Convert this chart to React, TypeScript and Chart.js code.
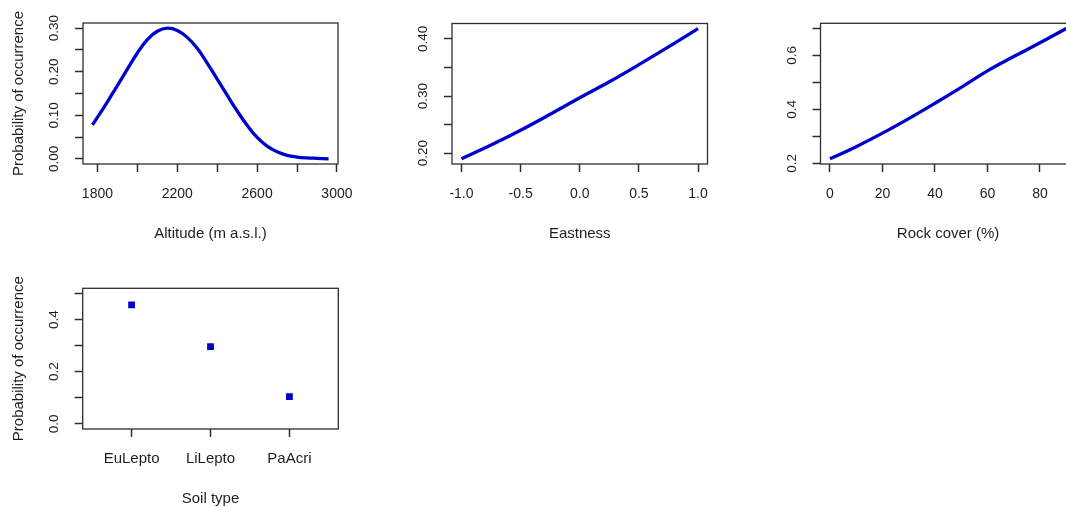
import React, { useEffect, useRef } from "react";
import { Chart, registerables } from "chart.js";

Chart.register(...registerables);

// ---------- data ----------
const altitudeValues = [1775, 1800, 1850, 1900, 1950, 2000, 2050, 2100, 2150, 2200, 2250, 2300, 2350, 2400, 2450, 2500, 2550, 2600, 2650, 2700, 2750, 2800, 2850, 2900, 2958];
const altitudeProbability = [0.078, 0.095, 0.131, 0.168, 0.206, 0.243, 0.274, 0.293, 0.300, 0.295, 0.279, 0.254, 0.220, 0.183, 0.146, 0.110, 0.077, 0.049, 0.029, 0.016, 0.008, 0.004, 0.002, 0.001, 0.000];
const altitudeTicks = [1800, 2000, 2200, 2400, 2600, 2800, 3000];
const altitudeTickLabels = ["1800", "", "2200", "", "2600", "", "3000"];
const altitudeProbTicks = [0, 0.05, 0.1, 0.15, 0.2, 0.25, 0.3];
const altitudeProbTickLabels = ["0.00", "", "0.10", "", "0.20", "", "0.30"];

const eastnessValues = [-1, -0.75, -0.5, -0.25, 0, 0.25, 0.5, 0.75, 1];
const eastnessProbability = [0.19, 0.214, 0.24, 0.268, 0.297, 0.325, 0.355, 0.386, 0.418];
const eastnessTicks = [-1, -0.5, 0, 0.5, 1];
const eastnessTickLabels = ["-1.0", "-0.5", "0.0", "0.5", "1.0"];
const eastnessProbTicks = [0.2, 0.25, 0.3, 0.35, 0.4];
const eastnessProbTickLabels = ["0.20", "", "0.30", "", "0.40"];

const rockValues = [0, 10, 20, 30, 40, 50, 60, 70, 80, 90];
const rockProbability = [0.217, 0.262, 0.312, 0.366, 0.423, 0.482, 0.543, 0.596, 0.647, 0.7];
const rockTicks = [0, 20, 40, 60, 80];
const rockTickLabels = ["0", "20", "40", "60", "80"];
const rockProbTicks = [0.2, 0.3, 0.4, 0.5, 0.6, 0.7];
const rockProbTickLabels = ["0.2", "", "0.4", "", "0.6", ""];

const soilTypes = ["EuLepto", "LiLepto", "PaAcri"];
const soilProbability = [0.456, 0.296, 0.104];
const soilProbTicks = [0, 0.1, 0.2, 0.3, 0.4, 0.5];
const soilProbTickLabels = ["0.0", "", "0.2", "", "0.4", ""];

const yTitle = "Probability of occurrence";

// ---------- style ----------
const BLUE = "#0000CD";
const AXIS = "#2e2e2e";
const TEXT = "#1e1e1e";
const FAMILY = "'Liberation Sans', Arial, Helvetica, sans-serif";
const TICK_LEN = 8;

type Spec = {
  left: number; top: number; w: number; h: number;
  area: { left: number; top: number; right: number; bottom: number };
  xMin: number; xMax: number; yMin: number; yMax: number;
  xTicks: number[]; xLabels: string[]; xFont: number;
  yTicks: number[]; yLabels: string[];
  xTitle: string; yTitle?: string;
  points: { x: number; y: number }[];
  kind: "line" | "points";
};

function measure(text: string, size: number) {
  const c = document.createElement("canvas").getContext("2d")!;
  c.font = `${size}px ${FAMILY}`;
  return c.measureText(text).width;
}

function buildConfig(s: Spec): any {
  const yFont = 13.5;
  const titleFont = 15;
  const titleLH = titleFont * 1.2;
  const xLH = s.xFont * 1.2;
  const widest = Math.max(...s.yLabels.map((l) => (l ? measure(l, yFont) : 0)));
  const yLabelOffset = 28.5; // label centre distance from box left
  const yPad = yLabelOffset - TICK_LEN - widest / 2;
  const xPad = 30 - TICK_LEN - xLH / 2;
  const xAxisHeight = s.h - s.area.bottom;
  const xTitlePadBottom = xAxisHeight - 70 - titleLH / 2;

  const boxPlugin = {
    id: "rbox",
    afterDatasetsDraw(chart: any) {
      const { ctx, chartArea: a } = chart;
      ctx.save();
      ctx.strokeStyle = AXIS;
      ctx.lineWidth = 1.3;
      ctx.strokeRect(a.left, a.top, a.right - a.left, a.bottom - a.top);
      ctx.restore();
    },
  };

  const dataset =
    s.kind === "line"
      ? {
          data: s.points,
          borderColor: BLUE,
          borderWidth: 3.3,
          pointRadius: 0,
          tension: 0.4,
          fill: false,
          showLine: true,
        }
      : {
          data: s.points,
          backgroundColor: BLUE,
          borderColor: BLUE,
          borderWidth: 0,
          pointStyle: "rect",
          pointRadius: 4.8,
          showLine: false,
        };

  return {
    type: s.kind === "line" ? "line" : "scatter",
    data: { datasets: [dataset] },
    options: {
      responsive: false,
      maintainAspectRatio: false,
      animation: false,
      events: [],
      layout: { padding: { left: 0, top: s.area.top, right: s.w - s.area.right, bottom: 0 } },
      plugins: { legend: { display: false }, tooltip: { enabled: false } },
      scales: {
        x: {
          type: "linear",
          position: "bottom",
          min: s.xMin,
          max: s.xMax,
          afterBuildTicks: (scale: any) => {
            scale.ticks = s.xTicks.map((v) => ({ value: v }));
          },
          afterFit: (scale: any) => {
            scale.height = xAxisHeight;
            scale.paddingLeft = 0;
            scale.paddingRight = 0;
            scale.paddingTop = 0;
            scale.paddingBottom = 0;
          },
          ticks: {
            autoSkip: false,
            maxRotation: 0,
            minRotation: 0,
            padding: xPad,
            color: TEXT,
            font: { family: FAMILY, size: s.xFont },
            callback: (_v: any, i: number) => s.xLabels[i],
          },
          grid: {
            display: true,
            drawOnChartArea: false,
            drawTicks: true,
            tickLength: TICK_LEN,
            tickColor: AXIS,
            tickWidth: 1.5,
          },
          border: { display: false },
          title: {
            display: true,
            text: s.xTitle,
            color: TEXT,
            font: { family: FAMILY, size: titleFont },
            padding: { top: 0, bottom: xTitlePadBottom },
          },
        },
        y: {
          type: "linear",
          position: "left",
          min: s.yMin,
          max: s.yMax,
          afterBuildTicks: (scale: any) => {
            scale.ticks = s.yTicks.map((v) => ({ value: v }));
          },
          afterFit: (scale: any) => {
            scale.width = s.area.left;
            scale.paddingLeft = 0;
            scale.paddingRight = 0;
            scale.paddingTop = 0;
            scale.paddingBottom = 0;
          },
          ticks: {
            autoSkip: false,
            minRotation: 90,
            maxRotation: 90,
            crossAlign: "center",
            padding: yPad,
            color: TEXT,
            font: { family: FAMILY, size: yFont },
            callback: (_v: any, i: number) => s.yLabels[i],
          },
          grid: {
            display: true,
            drawOnChartArea: false,
            drawTicks: true,
            tickLength: TICK_LEN,
            tickColor: AXIS,
            tickWidth: 1.5,
          },
          border: { display: false },
          title: {
            display: !!s.yTitle,
            text: s.yTitle || "",
            color: TEXT,
            font: { family: FAMILY, size: titleFont },
            padding: { top: 19 - titleLH / 2, bottom: 0 },
          },
        },
      },
    },
    plugins: [boxPlugin],
  };
}

// R-style extended range (4% on each side)
function ext(lo: number, hi: number): [number, number] {
  const d = (hi - lo) * 0.04;
  return [lo - d, hi + d];
}

const [altXMin, altXMax] = ext(Math.min(...altitudeValues), Math.max(...altitudeValues));
const [altYMin, altYMax] = ext(Math.min(...altitudeProbability), Math.max(...altitudeProbability));
const [eaXMin, eaXMax] = ext(Math.min(...eastnessValues), Math.max(...eastnessValues));
const [eaYMin, eaYMax] = ext(Math.min(...eastnessProbability), Math.max(...eastnessProbability));
const [rkXMin, rkXMax] = ext(Math.min(...rockValues), Math.max(...rockValues));
const [rkYMin, rkYMax] = ext(Math.min(...rockProbability), Math.max(...rockProbability));
const [soXMin, soXMax] = ext(0.5, soilTypes.length + 0.5);
const [soYMin, soYMax] = ext(0, 0.5);

const specs: Spec[] = [
  {
    left: 0, top: 0, w: 355, h: 250,
    area: { left: 83, top: 23, right: 338, bottom: 164 },
    xMin: altXMin, xMax: altXMax, yMin: altYMin, yMax: altYMax,
    xTicks: altitudeTicks, xLabels: altitudeTickLabels, xFont: 14,
    yTicks: altitudeProbTicks, yLabels: altitudeProbTickLabels,
    xTitle: "Altitude (m a.s.l.)", yTitle,
    points: altitudeValues.map((x, i) => ({ x, y: altitudeProbability[i] })),
    kind: "line",
  },
  {
    left: 370, top: 0, w: 355, h: 250,
    area: { left: 82, top: 23.5, right: 337.5, bottom: 164 },
    xMin: eaXMin, xMax: eaXMax, yMin: eaYMin, yMax: eaYMax,
    xTicks: eastnessTicks, xLabels: eastnessTickLabels, xFont: 14,
    yTicks: eastnessProbTicks, yLabels: eastnessProbTickLabels,
    xTitle: "Eastness",
    points: eastnessValues.map((x, i) => ({ x, y: eastnessProbability[i] })),
    kind: "line",
  },
  {
    left: 735, top: 0, w: 360, h: 250,
    area: { left: 85.5, top: 23.3, right: 340.7, bottom: 164 },
    xMin: rkXMin, xMax: rkXMax, yMin: rkYMin, yMax: rkYMax,
    xTicks: rockTicks, xLabels: rockTickLabels, xFont: 14,
    yTicks: rockProbTicks, yLabels: rockProbTickLabels,
    xTitle: "Rock cover (%)",
    points: rockValues.map((x, i) => ({ x, y: rockProbability[i] })),
    kind: "line",
  },
  {
    left: 0, top: 262, w: 355, h: 245,
    area: { left: 82.7, top: 26.3, right: 338.3, bottom: 167 },
    xMin: soXMin, xMax: soXMax, yMin: soYMin, yMax: soYMax,
    xTicks: soilTypes.map((_, i) => i + 1), xLabels: soilTypes, xFont: 15,
    yTicks: soilProbTicks, yLabels: soilProbTickLabels,
    xTitle: "Soil type", yTitle,
    points: soilTypes.map((_, i) => ({ x: i + 1, y: soilProbability[i] })),
    kind: "points",
  },
];

function Panel({ spec }: { spec: Spec }) {
  const ref = useRef<HTMLCanvasElement>(null);
  useEffect(() => {
    const chart = new Chart(ref.current as HTMLCanvasElement, buildConfig(spec));
    return () => chart.destroy();
  }, [spec]);
  return (
    <canvas
      ref={ref}
      width={spec.w}
      height={spec.h}
      style={{ position: "absolute", left: spec.left, top: spec.top, width: spec.w, height: spec.h }}
    />
  );
}

export default function App() {
  return (
    <div
      style={{
        position: "fixed",
        left: 0,
        top: 0,
        width: 1066,
        height: 507,
        overflow: "hidden",
        background: "#ffffff",
      }}
    >
      {specs.map((s, i) => (
        <Panel key={i} spec={s} />
      ))}
    </div>
  );
}
